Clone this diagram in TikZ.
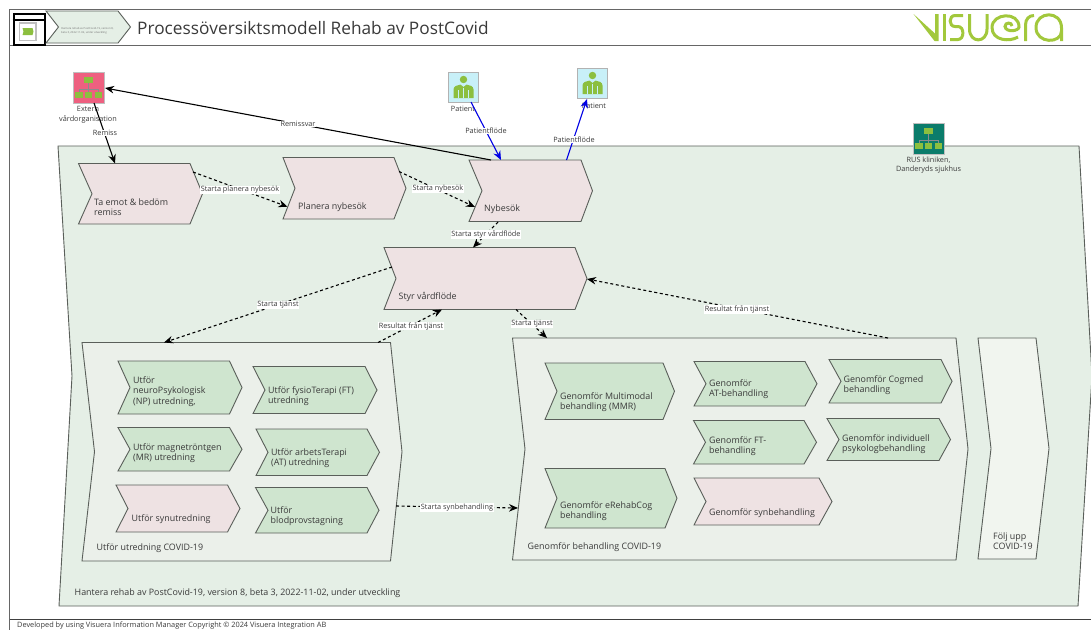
\documentclass[tikz,border=0pt]{standalone}
\usepackage{fontspec}
\setmainfont{Open Sans}
\usetikzlibrary{arrows.meta}
\definecolor{poolfill}{HTML}{E5EFE6}
\definecolor{contfill}{HTML}{EBF0EA}
\definecolor{followfill}{HTML}{F1F5EF}
\definecolor{pinkfill}{HTML}{EEE2E3}
\definecolor{greenfill}{HTML}{CFE5CF}
\definecolor{edgegrey}{HTML}{5A5F5A}
\definecolor{txt}{HTML}{3A3A3A}
\definecolor{logo}{HTML}{A2C83C}
\definecolor{leaf}{HTML}{8CBF3F}
\definecolor{orgred}{HTML}{EE6080}
\definecolor{orgteal}{HTML}{0B7C6B}
\definecolor{personbg}{HTML}{C8F0F8}
\tikzset{
  shapeline/.style={draw=edgegrey,line width=0.9pt,line join=miter},
  chevtext/.style={anchor=west,align=left,inner sep=0pt,text=txt,font=\fontsize{8.9}{10.2}\selectfont},
  cont text/.style={anchor=west,align=left,inner sep=0pt,text=txt,font=\fontsize{8.9}{10}\selectfont},
  smalltext/.style={align=center,inner sep=0pt,text=txt,font=\fontsize{7.3}{9.6}\selectfont},
  edgelabel/.style={fill=white,inner sep=0.6pt,text=txt,font=\fontsize{7.3}{8}\selectfont},
  flow/.style={-{Stealth[length=9pt,width=7.5pt]},line width=1.1pt,black},
  flowdash/.style={flow,dash pattern=on 3pt off 2.6pt},
  patientflow/.style={-{Stealth[length=9pt,width=7.5pt]},line width=1.1pt,blue!90!black},
  frame/.style={draw=black!60,line width=0.8pt},
  logostroke/.style={draw=logo,line width=3pt,line cap=butt}
}
% name, L, R, tip, notch, top, bottom, fill
\newcommand\chevshape[8]{%
  \fill[#8] (#2,#6) -- (#3,#6) -- (#4,{(#6+#7)/2}) -- (#3,#7) -- (#2,#7) -- (#5,{(#6+#7)/2}) -- cycle;
  \draw[shapeline] (#2,#6) -- (#3,#6) -- (#4,{(#6+#7)/2}) -- (#3,#7) -- (#2,#7) -- (#5,{(#6+#7)/2}) -- cycle;
  \node[minimum width={(#4-#2)*1pt},minimum height={(#7-#6)*1pt},inner sep=0pt,outer sep=0pt] (#1) at ({(#2+#4)/2},{(#6+#7)/2}) {};
}
% name, x, y, fill, border, leaf colour
\newcommand\orgicon[6]{%
  \node[minimum size=31pt,inner sep=0pt,outer sep=0pt,fill=#4,draw=#5,line width=1pt,anchor=north west] (#1) at (#2,#3) {};
  \begin{scope}[shift={(#2,#3)}]
    \draw[draw=black!45,line width=0.6pt] (15.5,11) -- (15.5,20) (6,20) -- (6,17.3) -- (25.5,17.3) -- (25.5,20);
    \fill[#6] (11.2,4.7) rectangle (20.2,11.3);
    \fill[#6] (2.3,20) rectangle (9.7,25.5);
    \fill[#6] (12.2,20) rectangle (19,25.5);
    \fill[#6] (21.8,20) rectangle (29,25.5);
  \end{scope}
}
% name, x, y
\newcommand\personicon[3]{%
  \node[minimum size=30pt,inner sep=0pt,outer sep=0pt,fill=personbg,draw=black!30,line width=1pt,anchor=north west] (#1) at (#2,#3) {};
  \begin{scope}[shift={(#2,#3)}]
    \fill[leaf] (15.5,7.5) circle (3.7);
    \fill[leaf] (5.5,26) -- (5.5,17.5) .. controls (5.5,14) and (9.5,13) .. (12.5,12.6) -- (15.5,15) -- (18.5,12.6) .. controls (21.5,13) and (25.5,14) .. (25.5,17.5) -- (25.5,26) -- cycle;
    \draw[personbg,line width=0.7pt] (10.2,18) -- (10.2,26.2) (20.8,18) -- (20.8,26.2) (15.5,15.5) -- (15.5,26.2);
  \end{scope}
}
\begin{document}
\begin{tikzpicture}[x=1pt,y=-1pt]
\useasboundingbox (0,0) rectangle (1091,630);
\clip (0,0) rectangle (1091,630);
\fill[white] (0,0) rectangle (1091,630);

% page frame
\draw[frame] (1091,9.5) -- (9.5,9.5) -- (9.5,630);
\draw[frame] (9.5,45.5) -- (1091,45.5);
\draw[frame,line width=0.7pt,draw=black!75] (9.5,619.5) -- (1091,619.5);

% header
\node[draw=black,line width=2.1pt,minimum size=31pt,inner sep=0pt,anchor=north west,fill=white] (hdrbox) at (12.5,12.5) {};
\draw[black,line width=1.8pt] (hdrbox.west |- 0,20) -- (hdrbox.east |- 0,20);
\draw[draw=black!25,line width=1.6pt,fill=white] (19.5,23) rectangle (36,40.5);
\fill[leaf] (22.5,28) -- (32.5,28) -- (33.5,31.5) -- (32.5,35) -- (22.5,35) -- (23.5,31.5) -- cycle;
\chevshape{hdrchev}{46}{118}{130.5}{58.5}{11}{43}{poolfill}
\node[inner sep=0pt,align=left,anchor=west,text=black!55,font=\fontsize{2.7}{4}\selectfont] (hdrchevtext) at (61,31) {Hantera rehab av PostCovid-19, version 8,\\beta 3, 2022-11-02, under utveckling};
\node[anchor=west,inner sep=0pt,text=txt,font=\fontsize{17.25}{20}\selectfont] (title) at (137,28) {Processöversiktsmodell Rehab av PostCovid};

% logo
\begin{scope}
  \fill[logo] (913.5,14) -- (935,33.5) -- (935,14) -- (938.5,14) -- (938.5,41) -- (934.5,41) -- cycle;
  \fill[logo] (942.5,14) rectangle (946,41);
  \draw[logostroke] (963,15.5) -- (955,15.5) .. controls (948.5,15.5) and (948.5,26.5) .. (955,26.5) -- (958,26.5) .. controls (964.5,26.5) and (964.5,39.5) .. (958,39.5) -- (950,39.5);
  \draw[logostroke] (969.5,14) -- (969.5,29) .. controls (969.5,43.5) and (987,43.5) .. (987,29) -- (987,14);
  \draw[logostroke] (1018,37) .. controls (1010,42) and (992,41) .. (992,27.5) .. controls (992,13) and (1019,11) .. (1019,27) .. controls (1019,31) and (1006,33) .. (1005,26.5) .. controls (1005,22) and (1012,22) .. (1012,26);
  \draw[logostroke] (1025.5,41) -- (1025.5,25) .. controls (1025.5,19) and (1029,15.5) .. (1034,15.5);
  \draw[logostroke] (1061.5,41) -- (1061.5,28) .. controls (1061.5,10) and (1036,11) .. (1036,27.5) .. controls (1036,44) and (1061.5,44) .. (1061.5,31);
\end{scope}

% pool
\fill[poolfill] (58,146) -- (1079,146) -- (1092,376) -- (1078,606) -- (59,606) -- (72,376) -- cycle;
\draw[shapeline] (58,146) -- (1079,146) -- (1092,376) -- (1078,606) -- (59,606) -- (72,376) -- cycle;
\node[minimum width=1034pt,minimum height=460pt,inner sep=0pt,outer sep=0pt] (pool) at (575,376) {};
\node[cont text] (poolt) at (74.5,593.5) {Hantera rehab av PostCovid-19, version 8, beta 3, 2022-11-02, under utveckling};

% containers
\chevshape{ut}{82}{390.5}{402}{94.5}{342.5}{561}{contfill}
\node[cont text] (utt) at (96.5,548.5) {Utför utredning COVID-19};
\chevshape{beh}{512.5}{956}{968}{525}{338}{560}{contfill}
\node[cont text] (beht) at (527.5,547.5) {Genomför behandling COVID-19};
\chevshape{folj}{978}{1036}{1049}{991}{338}{559}{followfill}
\node[cont text] (foljt) at (993,541.5) {Följ upp\\COVID-19};

% top process
\chevshape{ta}{78.5}{190}{202.5}{92}{163.5}{224}{pinkfill}
\node[chevtext] (tat) at (94,207) {Ta emot \& bedöm\\remiss};
\chevshape{pl}{283}{394}{406}{295}{157.5}{219}{pinkfill}
\node[chevtext] (plt) at (298,207) {Planera nybesök};
\chevshape{ny}{469}{581}{592.5}{482}{160}{221.5}{pinkfill}
\node[chevtext] (nyt) at (484,209) {Nybesök};
\chevshape{styr}{384}{575}{587}{396}{247.5}{309.5}{pinkfill}
\node[chevtext] (styrt) at (398.5,297) {Styr vårdflöde};

% utredning
\chevshape{np}{118}{229.5}{242}{130}{361}{414}{greenfill}
\node[chevtext] (npt) at (133,391.5) {Utför\\neuroPsykologisk\\(NP) utredning,};
\chevshape{ft}{253}{365}{377}{265}{366.5}{413.5}{greenfill}
\node[chevtext] (ftt) at (268,396.5) {Utför fysioTerapi (FT)\\utredning};
\chevshape{mr}{118}{229.5}{242}{130}{427.5}{471}{greenfill}
\node[chevtext] (mrt) at (133,453.5) {Utför magnetröntgen\\(MR) utredning};
\chevshape{at}{256}{367}{379.5}{268}{429}{475.5}{greenfill}
\node[chevtext] (att) at (271,458) {Utför arbetsTerapi\\(AT) utredning};
\chevshape{syn}{116}{227.5}{240}{128}{485}{532}{pinkfill}
\node[chevtext] (synt) at (131.5,519.5) {Utför synutredning};
\chevshape{blod}{255.5}{367}{379}{268}{487.5}{533}{greenfill}
\node[chevtext] (blodt) at (270.5,516) {Utför\\blodprovstagning};

% behandling
\chevshape{mmr}{545}{663}{674.5}{557}{363}{419.5}{greenfill}
\node[chevtext] (mmrt) at (560,402.5) {Genomför Multimodal\\behandling (MMR)};
\chevshape{atb}{694}{805}{817}{706}{361.5}{406}{greenfill}
\node[chevtext] (atbt) at (709,389) {Genomför\\AT-behandling};
\chevshape{cog}{829}{941}{952}{841}{359.5}{403}{greenfill}
\node[chevtext] (cogt) at (843.5,385.5) {Genomför Cogmed\\behandling};
\chevshape{ftb}{693.5}{804}{816.5}{705.5}{420.5}{464}{greenfill}
\node[chevtext] (ftbt) at (709,446.5) {Genomför FT-\\behandling};
\chevshape{ind}{827}{939}{950.5}{839}{418.5}{460.5}{greenfill}
\node[chevtext] (indt) at (842,444) {Genomför individuell\\psykologbehandling};
\chevshape{ere}{545}{665}{677}{557}{468.5}{528}{greenfill}
\node[chevtext] (eret) at (560,511) {Genomför eRehabCog\\behandling};
\chevshape{synb}{694}{819}{832}{706}{478}{525}{pinkfill}
\node[chevtext] (synbt) at (709,513) {Genomför synbehandling};

% icons
\orgicon{ext}{73}{72}{orgred}{black!25}{leaf}
\node[smalltext] (extt) at (88,114.5) {Extern\\vårdorganisation};
\personicon{pa1}{448}{72}
\node[smalltext] (pa1t) at (463,109) {Patient};
\personicon{pa2}{577}{68}
\node[smalltext] (pa2t) at (594,105.5) {Patient};
\orgicon{rus}{913}{123}{orgteal}{black!25}{leaf}
\node[smalltext] (rust) at (928.5,165) {RUS kliniken,\\Danderyds sjukhus};

% connectors
\draw[flow] ([shift={(21,31)}]ext.north west) -- ([shift={(36.5,0)}]ta.north west);
\draw[flow] ([shift={(22,0)}]ny.north west) -- ([shift={(32,16)}]ext.north west);
\draw[patientflow] ([shift={(23,30)}]pa1.north west) -- ([shift={(32,0)}]ny.north west);
\draw[patientflow] ([shift={(97.5,0)}]ny.north west) -- ([shift={(10,31)}]pa2.north west);
\draw[flowdash] ([shift={(114.5,8.5)}]ta.north west) -- ([shift={(4.5,49.2)}]pl.north west);
\draw[flowdash] ([shift={(116,14)}]pl.north west) -- ([shift={(6,47)}]ny.north west);
\draw[flowdash] ([shift={(29,62)}]ny.north west) -- ([shift={(89,0)}]styr.north west);
\draw[flowdash] ([shift={(8,19.5)}]styr.north west) -- ([shift={(82,0)}]ut.north west);
\draw[flowdash] ([shift={(296,0)}]ut.north west) -- ([shift={(58,62)}]styr.north west);
\draw[flowdash] ([shift={(132,62)}]styr.north west) -- ([shift={(34.5,0)}]beh.north west);
\draw[flowdash] ([shift={(375.5,0)}]beh.north west) -- ([shift={(203,31.5)}]styr.north west);
\draw[flowdash] ([shift={(314,163.5)}]ut.north west) -- ([shift={(5.5,170)}]beh.north west);

% connector labels
\node[edgelabel] (l1) at (105,133) {Remiss};
\node[edgelabel] (l2) at (298,124) {Remissvar};
\node[edgelabel] (l3) at (486,131) {Patientflöde};
\node[edgelabel] (l4) at (574,139.5) {Patientflöde};
\node[edgelabel] (l5) at (240,190) {Starta planera nybesök};
\node[edgelabel] (l6) at (438,189) {Starta nybesök};
\node[edgelabel] (l7) at (486,234.5) {Starta styr vårdflöde};
\node[edgelabel] (l8) at (278,305) {Starta tjänst};
\node[edgelabel] (l9) at (411,326) {Resultat från tjänst};
\node[edgelabel] (l10) at (532,324) {Starta tjänst};
\node[edgelabel] (l11) at (737,309.5) {Resultat från tjänst};
\node[edgelabel] (l12) at (457,507.5) {Starta synbehandling};

% footer
\node[anchor=west,inner sep=0pt,text=txt,font=\fontsize{7.35}{8}\selectfont] (foot) at (17,625.5) {Developed by using Visuera Information Manager Copyright © 2024 Visuera Integration AB};
\end{tikzpicture}
\end{document}
